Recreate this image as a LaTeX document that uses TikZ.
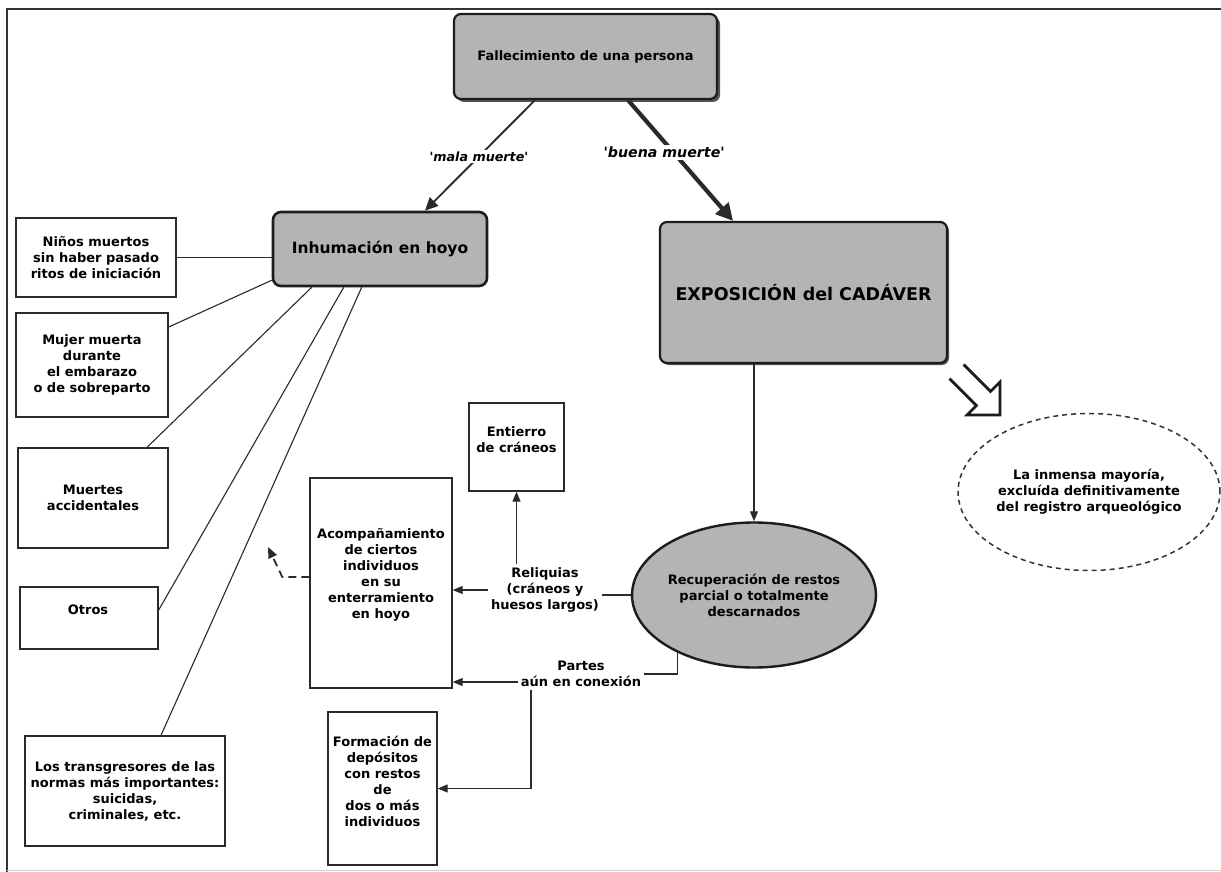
\documentclass[tikz,border=0pt]{standalone}
\usepackage{fontspec}
\setmainfont{DejaVu Sans}
\usetikzlibrary{shapes.geometric,arrows.meta,shadows,calc}
\definecolor{boxgray}{HTML}{B4B4B4}
\definecolor{edgec}{HTML}{1C1C1C}
\definecolor{shadec}{HTML}{555555}
\definecolor{linec}{HTML}{2A2A2A}
\definecolor{framec}{HTML}{333333}
\tikzset{
  txt/.style={font=\bfseries\fontsize{13}{16}\selectfont, align=center, text=black},
  whitebox/.style={draw=linec, line width=1.4pt, fill=white, rectangle, inner sep=0pt},
  graybox/.style={draw=edgec, line width=2.2pt, fill=boxgray, rounded corners=7pt, inner sep=0pt, txt},
  shad/.style={drop shadow={shadow xshift=3pt, shadow yshift=-3pt, fill=shadec, opacity=1}},
  link/.style={draw=linec, line width=1.1pt},
  arr/.style={link, -{Triangle[length=10pt,width=8pt]}},
  lbl/.style={txt, inner sep=3pt},
}
\begin{document}
\begin{tikzpicture}[x=1pt,y=-1pt]
\useasboundingbox (0,0) rectangle (1221,872);
\fill[white] (0,0) rectangle (1221,872);
\draw[framec, line width=2pt] (1221,9) -- (7,9) -- (7,872);
\draw[gray!35, line width=1.5pt] (7,870.5) -- (1221,870.5);

% main nodes
\node[graybox, shad, minimum width=263pt, minimum height=85pt] (fall) at (585.5,56.5) {Fallecimiento de una persona};
\node[graybox, line width=2.6pt, rounded corners=8pt, minimum width=214pt, minimum height=74pt,
      font=\bfseries\fontsize{15.5}{18}\selectfont] (inh) at (380,249) {Inhumación en hoyo};
\node[graybox, drop shadow={shadow xshift=2pt, shadow yshift=-2pt, fill=shadec, opacity=1},
      minimum width=287pt, minimum height=141pt,
      font=\bfseries\fontsize{17.5}{20}\selectfont] (expo) at (803.5,292.5) {EXPOSICIÓN del CADÁVER};
\node[ellipse, draw=edgec, line width=2.4pt, fill=boxgray, minimum width=242pt, minimum height=145pt,
      inner sep=0pt, txt] (rec) at (754,595) {Recuperación de restos\\parcial o totalmente\\descarnados};
\node[ellipse, draw=framec, line width=1.5pt, dash pattern=on 5pt off 4pt, minimum width=254pt,
      minimum height=157pt, inner sep=0pt, txt] (may) at (1089,492) {La inmensa mayoría,\\excluída definitivamente\\del registro arqueológico};

% left boxes
\node[whitebox, minimum width=160pt, minimum height=79pt, txt] (nin) at (96,257.5) {Niños muertos\\sin haber pasado\\ritos de iniciación};
\node[whitebox, minimum width=152pt, minimum height=104pt, txt] (muj) at (92,365) {Mujer muerta\\durante\\el embarazo\\o de sobreparto};
\node[whitebox, minimum width=150pt, minimum height=100pt, txt] (mue) at (93,498) {Muertes\\accidentales};
\node[whitebox, minimum width=138pt, minimum height=62pt] (otr) at (89,618) {};
\node[txt] (otrT) at (88,610) {Otros};
\node[whitebox, minimum width=200pt, minimum height=110pt, txt] (tra) at (125,791) {Los transgresores de las\\normas más importantes:\\suicidas,\\criminales, etc.};

% middle boxes
\node[whitebox, minimum width=95pt, minimum height=88pt] (ent) at (516.5,447) {};
\node[txt] (entT) at (516.5,440) {Entierro\\de cráneos};
\node[whitebox, minimum width=142pt, minimum height=210pt] (acom) at (381,583) {};
\node[txt] (acomT) at (381,575) {Acompañamiento\\de ciertos\\individuos\\en su\\enterramiento\\en hoyo};
\node[whitebox, minimum width=109pt, minimum height=153pt] (form) at (382.5,788.5) {};
\node[txt] (formT) at (382.5,781) {Formación de\\depósitos\\con restos\\de\\dos o más\\individuos};

% free text nodes
\node[lbl] (rel) at (545,590) {Reliquias\\(cráneos y\\huesos largos)};
\node[lbl] (par) at (581,674) {Partes\\aún en conexión};

% connectors: top
\draw[link, line width=1.9pt, -{Triangle[length=13pt,width=12pt]}]
  ([xshift=-50.5pt]fall.south) -- node[pos=0.51, fill=white, inner sep=2pt,
  font=\bfseries\itshape\fontsize{12.7}{15}\selectfont] (mala) {\textquotesingle mala muerte\textquotesingle} ([xshift=45pt]inh.north);
\draw[link, line width=4.2pt, -{Triangle[length=17pt,width=17pt]}]
  ([xshift=42.5pt]fall.south) -- node[pos=0.43, xshift=-9pt, fill=white, inner sep=2pt,
  font=\bfseries\itshape\fontsize{14.2}{17}\selectfont] (buena) {\textquotesingle buena muerte\textquotesingle} ([xshift=-70.5pt]expo.north);

% connectors: left
\draw[link] (nin.east) -- (nin.east -| inh.west);
\draw[link] ([yshift=38pt]muj.east) -- ([yshift=7pt]inh.south west);
\draw[link] ([xshift=54pt]mue.north) -- ([xshift=40pt]inh.south west);
\draw[link] ([yshift=8pt]otr.east) -- ([xshift=72pt]inh.south west);
\draw[link] ([xshift=36pt]tra.north) -- ([xshift=90pt]inh.south west);

% connectors: right side
\draw[arr] (rec.north |- expo.south) -- (rec.north);
\draw[link] (rec.west) -- (rec.west -| rel.east);
\draw[arr] (rel.west) -- (rel.west -| acom.east);
\draw[arr] (ent.south |- rel.north) -- (ent.south);
\draw[link] (rec.-143.6) |- (par.east);
\draw[arr] ([yshift=-8pt]par.west) -- ([yshift=-8pt]par.west -| acom.east);
\draw[arr] ([xshift=-50pt]par.south) |- (form.east);

% dashed arrow
\coordinate (dashend) at (268,547);
\draw[link, line width=1.8pt, dash pattern=on 8pt off 5pt, -{Triangle[length=11pt,width=9pt]}]
  ([yshift=6pt]acom.west) -- ++(-27,0) -- (dashend);

% hollow arrow
\draw[edgec, line width=2.8pt, line join=miter]
  (963.6,364.4) -- (990.6,391.4) -- (1000,382) -- (1000,415) -- (967,415) -- (976.4,405.6) -- (949.4,378.6);
\end{tikzpicture}
\end{document}
